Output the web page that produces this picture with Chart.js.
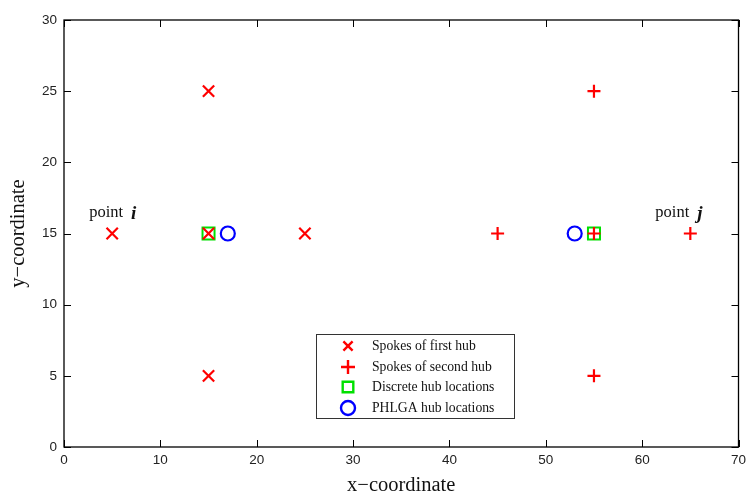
<!DOCTYPE html>
<html>
<head>
<meta charset="utf-8">
<script src="https://cdn.jsdelivr.net/npm/chart.js@4/dist/chart.umd.min.js"></script>
<style>
html,body{margin:0;padding:0;background:#fff;}
#wrap{width:749px;height:493px;position:relative;}
</style>
</head>
<body>
<div id="wrap"><canvas id="c" width="749" height="493"></canvas></div>
<script>
// ---- data ----
const seriesNames = ['Spokes of first hub', 'Spokes of second hub', 'Discrete hub locations', 'PHLGA hub locations'];
const firstHubX = [5, 15, 15, 25, 15];
const firstHubY = [15, 25, 15, 15, 5];
const secondHubX = [45, 55, 55, 65, 55];
const secondHubY = [15, 25, 15, 15, 5];
const discreteX = [15, 55];
const discreteY = [15, 15];
const phlgaX = [17, 53];
const phlgaY = [15, 15];
const xTicks = [0, 10, 20, 30, 40, 50, 60, 70];
const yTicks = [0, 5, 10, 15, 20, 25, 30];
const annotX = [5, 65];
const annotY = [15, 15];
const annotWord = ['point', 'point'];
const annotSym = ['i', 'j'];

function pts(xs, ys) { return xs.map((x, i) => ({x: x, y: ys[i]})); }

const styles = [
  {pointStyle: 'crossRot', color: '#ff0000', radius: 8, bw: 2.2},
  {pointStyle: 'cross', color: '#ff0000', radius: 6.5, bw: 2.2},
  {pointStyle: 'rect', color: '#00e000', radius: 8.5, bw: 2},
  {pointStyle: 'circle', color: '#0000ff', radius: 7, bw: 2.2}
];
const dataArrays = [pts(firstHubX, firstHubY), pts(secondHubX, secondHubY), pts(discreteX, discreteY), pts(phlgaX, phlgaY)];

const datasets = dataArrays.map((d, i) => ({
  label: seriesNames[i],
  data: d,
  pointStyle: styles[i].pointStyle,
  pointRadius: styles[i].radius,
  pointHoverRadius: styles[i].radius,
  borderColor: styles[i].color,
  backgroundColor: 'rgba(0,0,0,0)',
  pointBackgroundColor: 'rgba(0,0,0,0)',
  pointBorderColor: styles[i].color,
  pointBorderWidth: styles[i].bw,
  showLine: false
}));

function drawMarker(ctx, style, x, y, r, color, lw) {
  ctx.save();
  ctx.strokeStyle = color;
  ctx.lineWidth = lw;
  ctx.beginPath();
  if (style === 'crossRot') {
    const o = r * Math.SQRT1_2;
    ctx.moveTo(x - o, y - o); ctx.lineTo(x + o, y + o);
    ctx.moveTo(x - o, y + o); ctx.lineTo(x + o, y - o);
  } else if (style === 'cross') {
    ctx.moveTo(x - r, y); ctx.lineTo(x + r, y);
    ctx.moveTo(x, y - r); ctx.lineTo(x, y + r);
  } else if (style === 'rect') {
    const s = r * Math.SQRT1_2;
    ctx.rect(x - s, y - s, 2 * s, 2 * s);
  } else {
    ctx.arc(x, y, r, 0, Math.PI * 2);
  }
  ctx.stroke();
  ctx.restore();
}

const framePlugin = {
  id: 'frame',
  afterDatasetsDraw(chart) {
    const {ctx, chartArea: a, scales} = chart;
    ctx.save();
    ctx.strokeStyle = '#000';
    ctx.lineWidth = 1.3;
    ctx.strokeRect(a.left, a.top, a.right - a.left, a.bottom - a.top);
    const tl = 7;
    ctx.beginPath();
    xTicks.forEach(v => {
      const px = Math.round(scales.x.getPixelForValue(v)) + 0.5;
      ctx.moveTo(px, a.bottom); ctx.lineTo(px, a.bottom - tl);
      ctx.moveTo(px, a.top); ctx.lineTo(px, a.top + tl);
    });
    yTicks.forEach(v => {
      const py = Math.round(scales.y.getPixelForValue(v)) + 0.5;
      ctx.moveTo(a.left, py); ctx.lineTo(a.left + tl, py);
      ctx.moveTo(a.right, py); ctx.lineTo(a.right - tl, py);
    });
    ctx.lineWidth = 1;
    ctx.stroke();

    // annotations
    const offs = [{wx: -23, wy: -17, sy: -15}, {wx: -35, wy: -17, sy: -15}];
    annotX.forEach((x, i) => {
      const px = scales.x.getPixelForValue(x);
      const py = scales.y.getPixelForValue(annotY[i]);
      ctx.fillStyle = '#111';
      ctx.textBaseline = 'alphabetic';
      ctx.textAlign = 'left';
      ctx.font = '16.5px "Liberation Serif", "Times New Roman", serif';
      ctx.fillText(annotWord[i], px + offs[i].wx, py + offs[i].wy);
      const ww = ctx.measureText(annotWord[i]).width;
      ctx.font = 'italic bold 19px "Liberation Serif", "Times New Roman", serif';
      ctx.fillText(annotSym[i], px + offs[i].wx + ww + 8, py + offs[i].sy);
    });

    // legend box
    const lx = 316, ly = 334, lw = 198, lh = 84;
    ctx.fillStyle = '#fff';
    ctx.fillRect(lx, ly, lw, lh);
    ctx.strokeStyle = '#333';
    ctx.lineWidth = 1;
    ctx.strokeRect(lx + 0.5, ly + 0.5, lw, lh);
    const rowY = [346, 367, 387, 408];
    const legR = [6.5, 7, 7.5, 7];
    chart.data.datasets.forEach((ds, i) => {
      drawMarker(ctx, ds.pointStyle, 348, rowY[i], legR[i], ds.pointBorderColor, 2.4);
      ctx.fillStyle = '#111';
      ctx.font = '13.7px "Liberation Serif", "Times New Roman", serif';
      ctx.textBaseline = 'middle';
      ctx.textAlign = 'left';
      ctx.fillText(ds.label, 372, rowY[i]);
    });
    ctx.restore();
  }
};

const tickFont = {family: '"Liberation Sans", Arial, sans-serif', size: 13.5};

new Chart(document.getElementById('c'), {
  type: 'scatter',
  data: {datasets: datasets},
  options: {
    responsive: false,
    animation: false,
    layout: {padding: {top: 20, right: 7, left: 0, bottom: 0}},
    plugins: {legend: {display: false}, tooltip: {enabled: false}},
    scales: {
      x: {
        type: 'linear', min: 0, max: 70,
        afterBuildTicks: s => { s.ticks = xTicks.map(v => ({value: v})); },
        afterFit: s => { s.height = 46; s.paddingLeft = 0; s.paddingRight = 0; },
        grid: {display: false, drawTicks: false},
        border: {display: false},
        ticks: {padding: 5, color: '#222', font: tickFont, maxRotation: 0, autoSkip: false},
        title: {display: true, text: 'x\u2212coordinate', color: '#111', font: {family: '"Liberation Serif", "Times New Roman", serif', size: 20.5, lineHeight: 0.7}, padding: {top: 0, bottom: 0}}
      },
      y: {
        type: 'linear', min: 0, max: 30,
        afterBuildTicks: s => { s.ticks = yTicks.map(v => ({value: v})); },
        afterFit: s => { s.width = 64; s.paddingTop = 0; s.paddingBottom = 0; },
        grid: {display: false, drawTicks: false},
        border: {display: false},
        ticks: {padding: 7, color: '#222', font: tickFont, autoSkip: false},
        title: {display: true, text: 'y\u2212coordinate', color: '#111', font: {family: '"Liberation Serif", "Times New Roman", serif', size: 20.5, lineHeight: 1.2}, padding: {top: 6, bottom: 0}}
      }
    }
  },
  plugins: [framePlugin]
});
</script>
</body>
</html>
